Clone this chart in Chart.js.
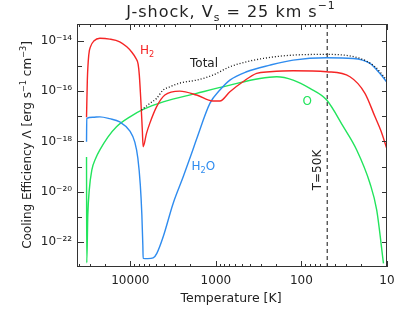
<!DOCTYPE html>
<html><head><meta charset="utf-8">
<script src="https://cdn.jsdelivr.net/npm/chart.js@4"></script>
<style>html,body{margin:0;padding:0;background:#fff;}#wrap{width:411px;height:316px;}</style>
</head><body><div id="wrap"><canvas id="c" width="411" height="316"></canvas></div>
<script>
// ---- data ----
const xTickValues = [10000, 1000, 100, 10];
const yTickValues = [1e-22, 1e-20, 1e-18, 1e-16, 1e-14];
const yTickLabels = ['10⁻²²', '10⁻²⁰', '10⁻¹⁸', '10⁻¹⁶', '10⁻¹⁴'];

const h2T = [32500, 31800, 30600, 29000, 26700, 22700, 17400, 13300, 11000, 9600, 8630, 8110, 7850, 7540, 7240, 7080, 6470, 5910, 4940, 3950, 2640, 1680, 1085, 898, 686, 483, 334, 234, 125, 50.7, 27.1, 18.1, 13.8, 11.75, 10.1];
const h2L = [9.3e-18, 2.8e-16, 2.8e-15, 6.3e-15, 1.0e-14, 1.29e-14, 1.2e-14, 9.4e-15, 5.9e-15, 3.6e-15, 2.1e-15, 1.2e-15, 4.4e-16, 4.5e-17, 2.8e-18, 6.2e-19, 2.1e-18, 5.4e-18, 2.4e-17, 7.1e-17, 1.02e-16, 7.1e-17, 4.1e-17, 4.1e-17, 9.6e-17, 2.4e-16, 5.2e-16, 6.0e-16, 6.6e-16, 6.0e-16, 3.8e-16, 8.3e-17, 9.6e-18, 2.6e-18, 5.5e-19];

const h2oT = [32500, 32300, 27500, 22700, 17400, 13300, 10100, 8860, 8170, 7640, 7330, 7140, 7080, 6240, 5410, 4900, 4130, 3160, 2410, 1920, 1680, 1175, 898, 686, 438, 234, 125, 50.7, 24.8, 15.8, 12.1, 10.1];
const h2oL = [9.8e-19, 8.3e-18, 9.3e-18, 9.6e-18, 8.1e-18, 6.0e-18, 2.6e-18, 9.5e-19, 2.2e-19, 1.8e-20, 1.17e-21, 7.4e-23, 2.2e-23, 2.15e-23, 2.3e-23, 3.5e-23, 1.6e-22, 3.4e-21, 3.9e-20, 3.4e-19, 1.25e-18, 3.3e-17, 1.12e-16, 2.8e-16, 6.0e-16, 1.1e-15, 1.75e-15, 2.16e-15, 2.04e-15, 1.29e-15, 5.1e-16, 2.4e-16];

const oT = [32500, 32300, 31400, 30200, 28200, 25300, 22700, 18300, 14500, 10100, 7080, 4130, 1680, 686, 306, 195, 125, 79.6, 50.7, 32.4, 22.6, 15.8, 13.2, 11.0];
const oL = [2.4e-19, 1.47e-23, 1.17e-21, 1.15e-20, 7.2e-20, 2.2e-19, 4.6e-19, 1.5e-18, 3.9e-18, 9.6e-18, 1.9e-17, 3.8e-17, 8.3e-17, 1.77e-16, 3.25e-16, 3.8e-16, 2.8e-16, 1.31e-16, 4.5e-17, 3.9e-18, 4.6e-19, 2.13e-20, 1.87e-21, 1.39e-23];

const totT = [7400, 5910, 4940, 4130, 3450, 2640, 1680, 1085, 686, 438, 234, 125, 50.7, 20.7, 13.8, 10.1];
const totL = [1.78e-17, 3.3e-17, 5.2e-17, 1.12e-16, 1.51e-16, 2.13e-16, 2.8e-16, 4.4e-16, 9.5e-16, 1.5e-15, 2.24e-15, 2.77e-15, 2.95e-15, 2.04e-15, 9.5e-16, 2.8e-16];

const markerT = [50, 50];
const markerL = [1e-23, 4.8e-14];

// ---- helpers ----
const pts = (xs, ys) => xs.map((x, i) => ({x: x, y: ys[i]}));
const FAM = '"DejaVu Sans", sans-serif';
const RED = '#f52525', BLUE = '#2f8cef', GREEN = '#22e45c', INK = '#222';

function drawRich(ctx, segs, x, y, size, align, color) {
  ctx.save();
  ctx.fillStyle = color;
  ctx.textBaseline = 'alphabetic';
  ctx.textAlign = 'left';
  let w = 0;
  for (const s of segs) {
    ctx.font = ((s.sub || s.sup) ? size * 0.68 : size) + 'px ' + FAM;
    w += ctx.measureText(s.t).width;
  }
  let cx = align === 'center' ? x - w / 2 : (align === 'right' ? x - w : x);
  for (const s of segs) {
    const fs = (s.sub || s.sup) ? size * 0.68 : size;
    ctx.font = fs + 'px ' + FAM;
    const dy = s.sub ? size * 0.28 : (s.sup ? -size * 0.45 : 0);
    ctx.fillText(s.t, cx, y + dy);
    cx += ctx.measureText(s.t).width;
  }
  ctx.restore();
}

const decor = {
  id: 'decor',
  afterDraw(chart) {
    const ctx = chart.ctx, a = chart.chartArea;
    const xs = chart.scales.x, ys = chart.scales.y;
    ctx.save();
    ctx.strokeStyle = '#333';
    ctx.lineWidth = 1;
    ctx.strokeRect(a.left + 0.5, a.top + 0.5, a.right - a.left - 1, a.bottom - a.top - 1);
    ctx.beginPath();
    // x ticks (inward, bottom and top)
    for (let d = 10; d <= 10000; d *= 10) {
      for (let m = 1; m <= 9; m++) {
        const v = m * d;
        if (v < xs.min || v > xs.max) continue;
        const px = Math.round(xs.getPixelForValue(v)) + 0.5;
        const len = m === 1 ? 6 : 3;
        ctx.moveTo(px, a.bottom); ctx.lineTo(px, a.bottom - len);
        ctx.moveTo(px, a.top); ctx.lineTo(px, a.top + len);
      }
    }
    // y ticks (each decade)
    for (let e = -22; e <= -14; e++) {
      const py = Math.round(ys.getPixelForValue(Math.pow(10, e))) + 0.5;
      const lenL = (e % 2 === 0) ? 7 : 5;
      ctx.moveTo(a.left, py); ctx.lineTo(a.left + lenL, py);
      ctx.moveTo(a.right, py); ctx.lineTo(a.right - 5, py);
    }
    ctx.stroke();
    ctx.restore();

    // title
    ctx.save();
    ctx.letterSpacing = '1px';
    drawRich(ctx, [{t: 'J-shock, V'}, {t: 's', sub: 1}, {t: ' = 25 km s'}, {t: '−1', sup: 1}], 231, 16.5, 16, 'center', INK);
    ctx.restore();
    // x title
    drawRich(ctx, [{t: 'Temperature [K]'}], 231, 302, 12.5, 'center', INK);
    // y title (rotated)
    ctx.save();
    ctx.translate(31, 145);
    ctx.rotate(-Math.PI / 2);
    drawRich(ctx, [{t: 'Cooling Efficiency Λ [erg s'}, {t: '−1', sup: 1}, {t: ' cm'}, {t: '−3', sup: 1}, {t: ']'}], 0, 0, 12, 'center', INK);
    ctx.restore();
    // series labels
    drawRich(ctx, [{t: 'H'}, {t: '2', sub: 1}], 140, 54, 12, 'left', RED);
    drawRich(ctx, [{t: 'Total'}], 190, 66.5, 12, 'left', INK);
    drawRich(ctx, [{t: 'H'}, {t: '2', sub: 1}, {t: 'O'}], 191.5, 170, 12, 'left', BLUE);
    drawRich(ctx, [{t: 'O'}], 302.5, 104.5, 12, 'left', GREEN);
    // T=50K
    ctx.save();
    ctx.translate(321, 170);
    ctx.rotate(-Math.PI / 2);
    drawRich(ctx, [{t: 'T=50K'}], 0, 0, 12, 'center', INK);
    ctx.restore();
  }
};

const lineDs = (label, data, color, extra) => Object.assign({
  label: label, data: data, borderColor: color, borderWidth: 1.4,
  pointRadius: 0, fill: false, cubicInterpolationMode: 'monotone'
}, extra || {});

new Chart(document.getElementById('c'), {
  type: 'line',
  data: {
    datasets: [
      lineDs('Total', pts(totT, totL), '#111', {borderDash: [1, 2], borderWidth: 1.3}),
      lineDs('H2', pts(h2T, h2L), RED),
      lineDs('H2O', pts(h2oT, h2oL), BLUE),
      lineDs('O', pts(oT, oL), GREEN),
      lineDs('T=50K', pts(markerT, markerL), '#111', {borderDash: [4, 3], borderWidth: 1, cubicInterpolationMode: 'default', tension: 0})
    ]
  },
  options: {
    responsive: false, animation: false, devicePixelRatio: 1,
    layout: {padding: {top: 24, right: 24, left: 0, bottom: 0}},
    plugins: {legend: {display: false}, title: {display: false}, tooltip: {enabled: false}},
    scales: {
      x: {
        type: 'logarithmic', reverse: true, min: 10, max: 42000,
        grid: {display: false, drawTicks: false}, border: {display: false},
        afterBuildTicks: s => { s.ticks = xTickValues.map(v => ({value: v})); },
        afterFit: s => { s.height = 49; },
        ticks: {callback: v => String(v), font: {family: FAM, size: 12}, color: INK, padding: 7, maxRotation: 0, autoSkip: false}
      },
      y: {
        type: 'logarithmic', min: 1e-23, max: 4.8e-14,
        grid: {display: false, drawTicks: false}, border: {display: false},
        afterBuildTicks: s => { s.ticks = yTickValues.map(v => ({value: v})); },
        afterFit: s => { s.width = 77; },
        ticks: {
          callback: v => {
            const i = yTickValues.findIndex(t => Math.abs(Math.log10(t) - Math.log10(v)) < 1e-6);
            return i >= 0 ? yTickLabels[i] : '';
          },
          font: {family: FAM, size: 12}, color: INK, padding: 5, autoSkip: false
        }
      }
    }
  },
  plugins: [decor]
});
</script>
</body></html>
